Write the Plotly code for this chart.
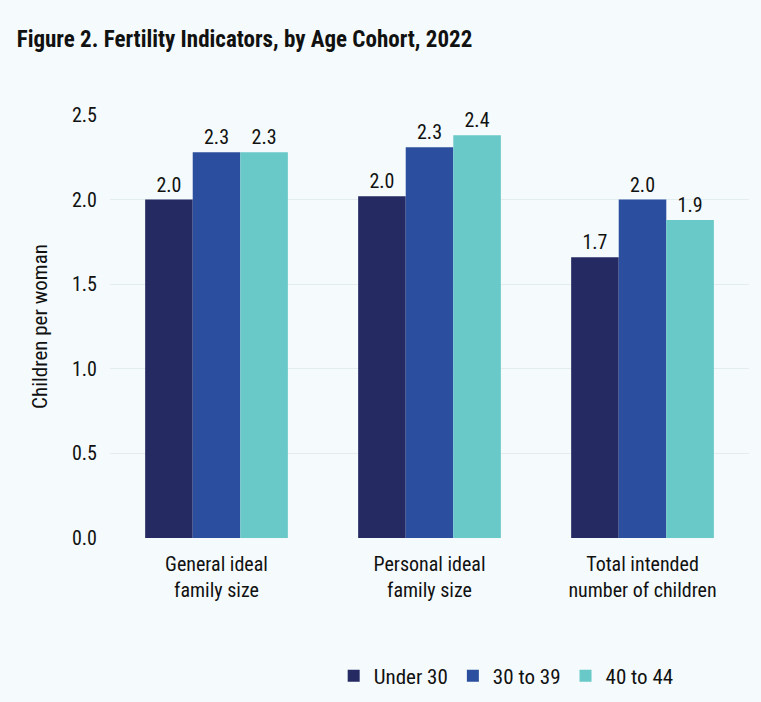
import plotly.graph_objects as go

categories = ["General ideal<br>family size", "Personal ideal<br>family size", "Total intended<br>number of children"]
series_names = ["Under 30", "30 to 39", "40 to 44"]
under30 = [2.0, 2.02, 1.66]
age30_39 = [2.28, 2.31, 2.0]
age40_44 = [2.28, 2.38, 1.88]
colors = ["#252a63", "#2b4f9e", "#69c8c8"]

FONT = "Roboto Condensed, Open Sans Condensed, sans-serif"

fig = go.Figure()
for name, vals, col in zip(series_names, [under30, age30_39, age40_44], colors):
    fig.add_trace(go.Bar(
        x=categories, y=vals, name=name, marker=dict(color=col, line=dict(width=0)),
        text=[f"{v:.1f}" for v in vals], textposition="outside",
        textfont=dict(size=20, color="#111111", family=FONT),
        cliponaxis=False,
    ))

fig.update_layout(
    width=761, height=702,
    paper_bgcolor="#f5fbfc", plot_bgcolor="#f5fbfc",
    barmode="group", bargap=0.33, bargroupgap=0,
    margin=dict(l=110, r=12, t=115, b=164, autoexpand=False),
    font=dict(family=FONT, size=19, color="#111111"),
    title=dict(text="<b>Figure 2. Fertility Indicators, by Age Cohort, 2022</b>",
               x=0.022, xanchor="left", xref="container", y=0.944, yanchor="middle",
               font=dict(size=23, family=FONT, color="#111111")),
    yaxis=dict(range=[0, 2.5], dtick=0.5, tickformat=".1f",
               showgrid=True, gridcolor="#e3edf0", gridwidth=1,
               zeroline=False, showline=False, ticks="", ticklen=0, ticklabelstandoff=12,
               tickfont=dict(size=20), title=dict(text="Children per woman", font=dict(size=21), standoff=18)),
    xaxis=dict(showline=False, ticks="", tickfont=dict(size=20), ticklabelstandoff=12),
    legend=dict(orientation="h", x=0.62, xanchor="center", y=0.037, yref="container", yanchor="middle",
                font=dict(size=21), traceorder="normal", tracegroupgap=0),
    showlegend=True,
)

fig.write_html("out.html", config={"displayModeBar": False},
               post_script="document.body.style.margin='0';")
